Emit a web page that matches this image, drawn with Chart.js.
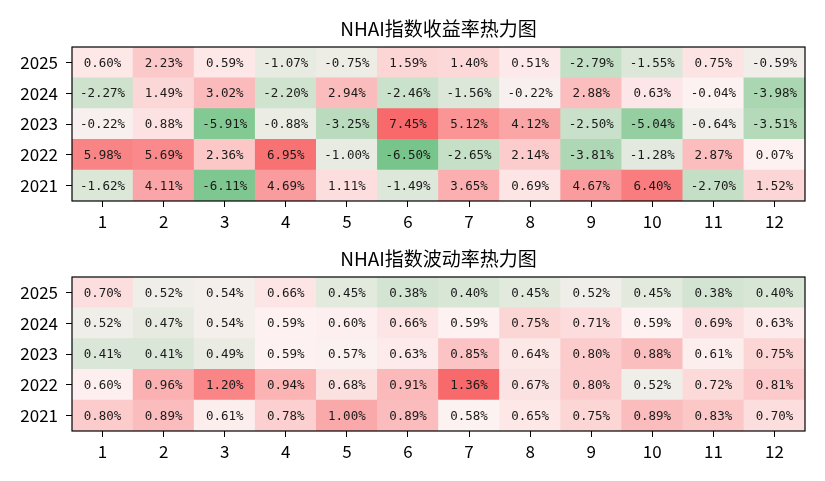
<!DOCTYPE html>
<html>
<head>
<meta charset="utf-8">
<script src="https://cdn.jsdelivr.net/npm/chart.js@4.4.1/dist/chart.umd.min.js"></script>
<style>
  body { margin:0; background:#fff; }
  #wrap { position:relative; width:825px; height:481px; }
  canvas { position:absolute; left:0; }
</style>
</head>
<body>
<div id="wrap">
  <canvas id="retChart" width="825" height="240" style="top:0px"></canvas>
  <canvas id="volChart" width="825" height="241" style="top:240px"></canvas>
</div>
<script>
// months on x, years on y (2021 bottom)
var months = ["1","2","3","4","5","6","7","8","9","10","11","12"];
var years = ["2021","2022","2023","2024","2025"];

// monthly return, %
var ret2021 = [-1.62, 4.11, -6.11, 4.69, 1.11, -1.49, 3.65, 0.69, 4.67, 6.40, -2.70, 1.52];
var ret2022 = [5.98, 5.69, 2.36, 6.95, -1.00, -6.50, -2.65, 2.14, -3.81, -1.28, 2.87, 0.07];
var ret2023 = [-0.22, 0.88, -5.91, -0.88, -3.25, 7.45, 5.12, 4.12, -2.50, -5.04, -0.64, -3.51];
var ret2024 = [-2.27, 1.49, 3.02, -2.20, 2.94, -2.46, -1.56, -0.22, 2.88, 0.63, -0.04, -3.98];
var ret2025 = [0.60, 2.23, 0.59, -1.07, -0.75, 1.59, 1.40, 0.51, -2.79, -1.55, 0.75, -0.59];

// monthly volatility, %
var vol2021 = [0.80, 0.89, 0.61, 0.78, 1.00, 0.89, 0.58, 0.65, 0.75, 0.89, 0.83, 0.70];
var vol2022 = [0.60, 0.96, 1.20, 0.94, 0.68, 0.91, 1.36, 0.67, 0.80, 0.52, 0.72, 0.81];
var vol2023 = [0.41, 0.41, 0.49, 0.59, 0.57, 0.63, 0.85, 0.64, 0.80, 0.88, 0.61, 0.75];
var vol2024 = [0.52, 0.47, 0.54, 0.59, 0.60, 0.66, 0.59, 0.75, 0.71, 0.59, 0.69, 0.63];
var vol2025 = [0.70, 0.52, 0.54, 0.66, 0.45, 0.38, 0.40, 0.45, 0.52, 0.45, 0.38, 0.40];

var retRows = [ret2021, ret2022, ret2023, ret2024, ret2025];
var volRows = [vol2021, vol2022, vol2023, vol2024, vol2025];

// green - white - red scale
var GREEN = [99, 190, 123], MID = [253, 242, 242], RED = [248, 105, 107];
function mix(a, b, t) {
    return "rgb(" + Math.round(a[0] + (b[0]-a[0])*t) + "," + Math.round(a[1] + (b[1]-a[1])*t) + "," + Math.round(a[2] + (b[2]-a[2])*t) + ")";
}
function makeColor(rows, center) {
    var span = 0;
    rows.forEach(function(r){ r.forEach(function(v){ span = Math.max(span, Math.abs(v-center)); }); });
    return function(v) {
        var t = (v - center) / span;
        if (t > 1) t = 1; if (t < -1) t = -1;
        return t >= 0 ? mix(MID, RED, t) : mix(MID, GREEN, -t);
    };
}

var frameAndText = {
    id: "frameAndText",
    afterDatasetsDraw: function(chart) {
        var ctx = chart.ctx;
        ctx.save();
        ctx.font = "12.5px 'DejaVu Sans Mono'";
        ctx.fillStyle = "#1a1a1a";
        ctx.textAlign = "center";
        ctx.textBaseline = "middle";
        chart.data.datasets.forEach(function(ds, di) {
            var meta = chart.getDatasetMeta(di);
            meta.data.forEach(function(bar, i) {
                ctx.fillText(ds.values[i].toFixed(2) + "%", bar.x, (bar.y + bar.base) / 2 + 1);
            });
        });
        var a = chart.chartArea;
        ctx.strokeStyle = "#000";
        ctx.lineWidth = 1.2;
        ctx.strokeRect(a.left, a.top, a.right - a.left, a.bottom - a.top);
        ctx.font = "19px 'Noto Sans CJK SC'";
        ctx.fillStyle = "#000";
        ctx.textBaseline = "alphabetic";
        ctx.fillText(chart.options.plugins.myTitle, (a.left + a.right) / 2, a.top - 11);
        ctx.restore();
    }
};

function buildHeatmap(id, rows, center, title, axisH, padTop) {
    var colorOf = makeColor(rows, center);
    var datasets = rows.map(function(row, yi) {
        return {
            label: years[yi],
            values: row,
            data: row.map(function(){ return [yi - 0.5, yi + 0.5]; }),
            backgroundColor: row.map(colorOf),
            borderWidth: 0,
            grouped: false,
            barPercentage: 1,
            categoryPercentage: 1
        };
    });
    return new Chart(document.getElementById(id).getContext("2d"), {
        type: "bar",
        data: { labels: months, datasets: datasets },
        options: {
            responsive: false,
            animation: false,
            layout: { padding: { left: 0, right: 20, top: padTop, bottom: 0 } },
            plugins: { legend: { display: false }, tooltip: { enabled: false }, myTitle: title },
            scales: {
                x: {
                    grid: { offset: false, drawOnChartArea: false, drawTicks: true, tickLength: 6, color: "#000" },
                    border: { display: false },
                    ticks: { color: "#000", padding: 4, font: { family: "'Noto Sans CJK SC'", size: 17 } },
                    afterFit: function(s) { s.height = axisH; }
                },
                y: {
                    min: -0.5, max: 4.5,
                    grid: { drawOnChartArea: false, drawTicks: true, tickLength: 6, color: "#000" },
                    border: { display: false },
                    ticks: {
                        color: "#000", padding: 8, font: { family: "'Noto Sans CJK SC'", size: 17 },
                        callback: function(v) { return years[v]; }
                    },
                    afterBuildTicks: function(s) { s.ticks = years.map(function(y, i){ return { value: i }; }); },
                    afterFit: function(s) { s.width = 72; }
                }
            }
        },
        plugins: [frameAndText]
    });
}

window.onload = function() {
    buildHeatmap("retChart", retRows, 0, "NHAI指数收益率热力图", 39, 47);
    buildHeatmap("volChart", volRows, 0.585, "NHAI指数波动率热力图", 50, 37);
};
</script>
</body>
</html>
